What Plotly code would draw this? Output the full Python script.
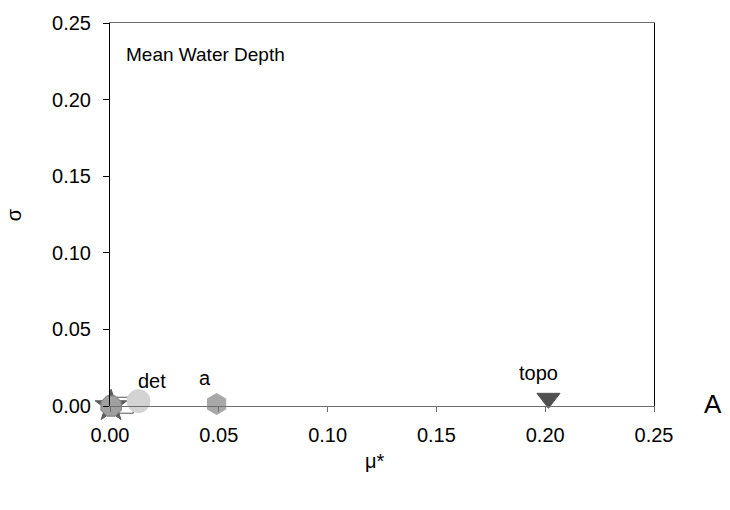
import plotly.graph_objects as go

# data (mu*, sigma)
names = ["square", "star", "oct", "det", "diamond", "a", "topo"]
mu = [0.007, 0.0005, 0.0005, 0.0131, 0.0092, 0.049, 0.2015]
sigma = [0.0005, 0.0, 0.0, 0.0032, -0.005, 0.0013, 0.005]
symbols = ["square", "star", "octagon", "circle", "diamond", "hexagon", "triangle-down"]
colors = ["#ffffff", "#5a5a5a", "#a0a0a0", "#d3d3d3", "#404040", "#a8a8a8", "#505050"]
sizes = [16, 24, 22, 23, 11, 21, 20]
line_colors = ["#555555", "#5a5a5a", "#7a7a7a", "#d3d3d3", "#404040", "#a8a8a8", "#505050"]

labels = [("det", 0.0195, 0.0165), ("a", 0.0435, 0.0180), ("topo", 0.1967, 0.0215)]

xticks = [0.0, 0.05, 0.10, 0.15, 0.20, 0.25]
yticks = [0.0, 0.05, 0.10, 0.15, 0.20, 0.25]

FONT = "Liberation Sans, Arial, sans-serif"
FS = 20

fig = go.Figure()
for i in range(len(names)):
    fig.add_trace(go.Scatter(
        x=[mu[i]], y=[sigma[i]], mode="markers",
        marker=dict(symbol=symbols[i], color=colors[i], size=sizes[i],
                    line=dict(color=line_colors[i], width=1)),
        cliponaxis=False, showlegend=False, hoverinfo="skip"))

for t, x, y in labels:
    fig.add_annotation(x=x, y=y, text=t, showarrow=False, xref="x", yref="y",
                       font=dict(size=FS, color="black", family=FONT))

fig.add_annotation(x=0.0065, y=0.2292, text="Mean Water Depth", showarrow=False,
                   xanchor="left", xref="x", yref="y",
                   font=dict(size=19, color="black", family=FONT))
fig.add_annotation(x=1.128, y=-0.04, text="A", showarrow=False, xref="paper", yref="paper",
                   font=dict(size=26, color="black", family=FONT))
fig.add_annotation(x=-0.2, y=0.4987, text="σ", showarrow=False, xref="paper", yref="paper",
                   textangle=-90, font=dict(size=FS, color="black", family=FONT))
fig.add_annotation(x=0.487, y=-0.178, text="μ*", showarrow=False, xref="paper", yref="paper",
                   font=dict(size=FS, color="black", family=FONT))

fig.update_layout(
    width=730, height=510,
    margin=dict(l=110, r=76, t=19, b=104),
    paper_bgcolor="white", plot_bgcolor="white",
    font=dict(family=FONT, size=FS, color="black"),
    xaxis=dict(range=[0, 0.25], tickvals=xticks, ticktext=[f"{v:.2f}" for v in xticks],
               showgrid=False, zeroline=False, showline=True, linecolor="#6e6e6e",
               linewidth=1, mirror=True, ticks="outside", ticklen=5, tickcolor="#6e6e6e",
               ticklabelstandoff=6, tickfont=dict(size=FS)),
    yaxis=dict(range=[0, 0.25], tickvals=yticks, ticktext=[f"{v:.2f}" for v in yticks],
               showgrid=False, zeroline=False, showline=True, linecolor="black",
               linewidth=1, mirror=True, ticks="outside", ticklen=6, tickcolor="black",
               ticklabelstandoff=8, tickfont=dict(size=FS)),
)

fig.write_html("out.html")
